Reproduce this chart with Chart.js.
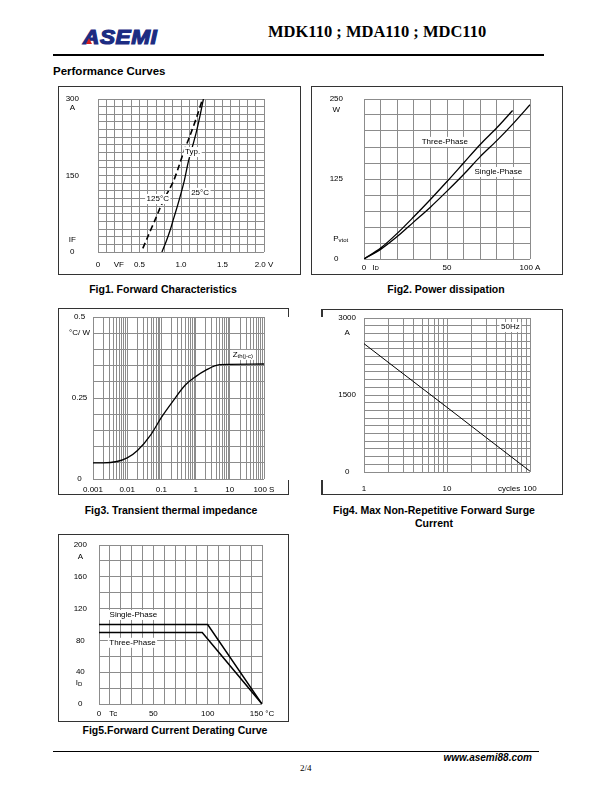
<!DOCTYPE html>
<html lang="en">
<head>
<meta charset="UTF-8" />
<title>MDK110 ; MDA110 ; MDC110 - Performance Curves</title>
<script src="https://cdn.jsdelivr.net/npm/chart.js@4/dist/chart.umd.min.js"></script>
<style>
  body { margin: 0; background: #fff; }
  #page { position: relative; width: 612px; height: 792px; overflow: hidden;
          font-family: "Liberation Sans", Arial, sans-serif; color: #000; }
  .abs { position: absolute; white-space: nowrap; }
  .frame { position: absolute; box-sizing: border-box; border: 1.5px solid #333; }
  .seg { position: absolute; background: #333; width: 1.5px; }
  canvas { position: absolute; }
  .cap { position: absolute; font-weight: bold; font-size: 10.5px; line-height: 13px;
         text-align: center; white-space: nowrap; }
</style>
</head>
<body>
<div id="page">
  <!-- header -->
  <div class="abs" style="left:83px;top:27px;font-size:20px;line-height:20px;font-weight:bold;font-style:italic;
       color:#1c2c82;-webkit-text-stroke:1.2px #1c2c82;letter-spacing:0.5px;transform:scaleX(1.13);transform-origin:left">ASEMI</div>
  <div class="abs" style="left:86px;top:38px;width:0;height:0;border-left:3px solid transparent;border-right:3px solid transparent;border-bottom:6px solid #d42020"></div>
  <div class="abs" style="left:268px;top:24px;font-family:'Liberation Serif',serif;font-weight:bold;font-size:16.5px;line-height:16.5px">MDK110 ; MDA110 ; MDC110</div>
  <div class="abs" style="left:53px;top:53.5px;width:491px;height:2.5px;background:#000"></div>
  <div class="abs" style="left:53px;top:66px;font-weight:bold;font-size:11.5px;line-height:11px">Performance Curves</div>

  <!-- frames -->
  <div class="frame" style="left:58px;top:86px;width:243px;height:189px"></div>
  <div class="frame" style="left:311px;top:86px;width:252px;height:189px"></div>
  <div class="frame" style="left:58px;top:308px;width:231px;height:187px;border-right:none"></div>
  <div class="seg" style="left:287.5px;top:308px;height:9px"></div>
  <div class="seg" style="left:287.5px;top:480px;height:15px"></div>
  <div class="frame" style="left:321px;top:309px;width:242px;height:186px;border-left:none"></div>
  <div class="seg" style="left:321px;top:309px;height:8px"></div>
  <div class="seg" style="left:321px;top:480px;height:15px"></div>
  <div class="frame" style="left:58px;top:534px;width:231px;height:188px"></div>

  <canvas id="fig1" width="241" height="188" style="left:59px;top:87px"></canvas>
  <canvas id="fig2" width="251" height="187" style="left:312px;top:87px"></canvas>
  <canvas id="fig3" width="229" height="185" style="left:59px;top:309px"></canvas>
  <canvas id="fig4" width="241" height="184" style="left:322px;top:310px"></canvas>
  <canvas id="fig5" width="229" height="187" style="left:59px;top:535px"></canvas>

  <!-- captions -->
  <div class="cap" style="left:63px;width:200px;top:283px">Fig1. Forward Characteristics</div>
  <div class="cap" style="left:346px;width:200px;top:283px">Fig2. Power dissipation</div>
  <div class="cap" style="left:61px;width:220px;top:504px">Fig3. Transient thermal impedance</div>
  <div class="cap" style="left:324px;width:220px;top:504px">Fig4. Max Non-Repetitive Forward Surge<br>Current</div>
  <div class="cap" style="left:65px;width:220px;top:724px">Fig5.Forward Current Derating Curve</div>

  <!-- footer -->
  <div class="abs" style="left:53px;top:751px;width:486px;height:1px;background:#000"></div>
  <div class="abs" style="right:80px;top:752px;font-weight:bold;font-style:italic;font-size:10px;line-height:12px">www.asemi88.com</div>
  <div class="abs" style="left:300px;top:763px;font-family:'Liberation Serif',serif;font-size:9px;line-height:10px">2/4</div>
</div>

<script>
  // ---- Fig1: forward characteristics ----
  const fig1V25 = [0.77, 0.82, 0.87, 0.91, 0.96, 1.0, 1.04, 1.09, 1.14, 1.18, 1.23, 1.27];
  const fig1I25 = [0, 20, 43, 65, 92, 115, 140, 178, 208, 232, 268, 300];
  const fig1V125 = [0.54, 0.6, 0.69, 0.75, 0.81, 0.86, 0.91, 0.97, 1.03, 1.11, 1.19, 1.26];
  const fig1I125 = [7, 30, 64, 87, 108, 123, 139, 166, 195, 229, 265, 300];
  const fig1XTicks = [0, 0.25, 0.5, 1.0, 1.5, 2.0];
  const fig1XLabels = ['0', 'VF', '0.5', '1.0', '1.5', '2.0 V'];
  const fig1YTicks = [0, 23, 150, 282, 300];
  const fig1YLabels = ['0', 'IF', '150', 'A', '300'];

  // ---- Fig2: power dissipation ----
  const fig2IThree = [0, 10, 20, 30, 40, 50, 60, 70, 80, 89.5];
  const fig2PThree = [0, 17, 40, 66, 93, 121, 150, 179, 205, 232];
  const fig2ISingle = [0, 10, 20, 30, 40, 50, 60, 70, 80, 90, 100];
  const fig2PSingle = [0, 15, 35, 58, 81, 106, 132, 160, 185, 212, 241];
  const fig2XTicks = [0, 50, 100];
  const fig2XLabels = ['0', '50', '100 A'];
  const fig2YTicks = [0, 125, 233, 250];
  const fig2YLabels = ['0', '125', 'W', '250'];

  // ---- Fig3: transient thermal impedance ----
  const fig3Time = [0.001, 0.002, 0.005, 0.01, 0.02, 0.05, 0.1, 0.2, 0.5, 1, 2, 5, 10, 100];
  const fig3Zth = [0.05, 0.05, 0.054, 0.065, 0.088, 0.138, 0.19, 0.235, 0.29, 0.316, 0.336, 0.353, 0.354, 0.355];
  const fig3XTicks = [0.001, 0.01, 0.1, 1, 10, 100];
  const fig3XLabels = ['0.001', '0.01', '0.1', '1', '10', '100 S'];
  const fig3YTicks = [0, 0.25, 0.45, 0.5];
  const fig3YLabels = ['0', '0.25', '°C/ W', '0.5'];

  // ---- Fig4: max non-repetitive surge current ----
  const fig4Cycles = [1, 2.5, 10, 30, 100];
  const fig4Surge = [2500, 2005, 1260, 665, 15];
  const fig4XTicks = [1, 10, 56, 100];
  const fig4XLabels = ['1', '10', 'cycles', '100'];
  const fig4YTicks = [0, 1500, 2710, 3000];
  const fig4YLabels = ['0', '1500', 'A', '3000'];

  // ---- Fig5: current derating ----
  const fig5TSingle = [0, 100, 150];
  const fig5ISingle = [100, 100, 0];
  const fig5TThree = [0, 95, 150];
  const fig5IThree = [90, 90, 0];
  const fig5XTicks = [0, 13, 50, 100, 150];
  const fig5XLabels = ['0', 'Tc', '50', '100', '150 °C'];
  const fig5YTicks = [0, 40, 80, 120, 160, 185, 200];
  const fig5YLabels = ['0', '40', '80', '120', '160', 'A', '200'];

  Chart.defaults.font.family = "'Liberation Sans', Arial, sans-serif";
  Chart.defaults.font.size = 8;
  Chart.defaults.color = '#000';
  Chart.defaults.animation = false;
  Chart.defaults.plugins.legend.display = false;
  Chart.defaults.plugins.tooltip.enabled = false;

  // text labels placed in data units, optional subscript and white box
  const notesPlugin = {
    id: 'notes',
    afterDatasetsDraw(chart, args, opts) {
      const ctx = chart.ctx;
      const xs = chart.scales.x, ys = chart.scales.y;
      (opts.items || []).forEach((n) => {
        const px = xs.getPixelForValue(n.x);
        const py = ys.getPixelForValue(n.y);
        ctx.save();
        ctx.font = "8px 'Liberation Sans', Arial, sans-serif";
        const w1 = ctx.measureText(n.text).width;
        ctx.font = "6px 'Liberation Sans', Arial, sans-serif";
        const w2 = n.sub ? ctx.measureText(n.sub).width : 0;
        const left = px - (w1 + w2) / 2;
        if (n.box) {
          ctx.fillStyle = '#fff';
          ctx.fillRect(left - 1.5, py - 5, w1 + w2 + 3, 10);
        }
        ctx.fillStyle = '#000';
        ctx.textBaseline = 'middle';
        ctx.textAlign = 'left';
        ctx.font = "8px 'Liberation Sans', Arial, sans-serif";
        ctx.fillText(n.text, left, py);
        if (n.sub) {
          ctx.font = "6px 'Liberation Sans', Arial, sans-serif";
          ctx.fillText(n.sub, left + w1, py + 1.5);
        }
        ctx.restore();
      });
    }
  };
  Chart.register(notesPlugin);

  function steps(min, max, step) {
    const out = [];
    for (let v = min; v <= max + step / 1000; v += step) out.push(+v.toFixed(6));
    return out;
  }
  function logSteps(min, max) {
    const out = [];
    for (let d = Math.round(Math.log10(min)); d < Math.round(Math.log10(max)); d++) {
      for (let k = 1; k < 10; k++) out.push(+(k * Math.pow(10, d)).toPrecision(6));
    }
    out.push(max);
    return out;
  }
  function pts(xs, ys) {
    return xs.map((x, i) => ({ x: x, y: ys[i] }));
  }

  // the label padding must not push the plot area inwards
  function noPad(s) {
    s.paddingTop = 0; s.paddingBottom = 0; s.paddingLeft = 0; s.paddingRight = 0;
  }

  function labelAxis(type, position, min, max, values, labels, pad, size) {
    return {
      type: type, position: position, min: min, max: max,
      grid: { display: false, drawTicks: false },
      border: { display: false },
      ticks: {
        autoSkip: false, maxRotation: 0, minRotation: 0, padding: pad,
        crossAlign: position === 'left' ? 'center' : 'near',
        callback: (v, i) => labels[i]
      },
      afterBuildTicks: (s) => { s.ticks = values.map((v) => ({ value: v })); },
      afterFit: (s) => {
        if (position === 'left') s.width = size; else s.height = size;
        noPad(s);
      }
    };
  }
  function gridAxis(type, position, min, max, values) {
    return {
      type: type, position: position, min: min, max: max,
      grid: { color: '#8c8c8c', lineWidth: 1, drawTicks: false },
      border: { display: false },
      ticks: { display: false },
      afterBuildTicks: (s) => { s.ticks = values.map((v) => ({ value: v })); },
      afterFit: (s) => {
        if (position === 'left') s.width = 0; else s.height = 0;
        noPad(s);
      }
    };
  }

  function makeChart(id, c) {
    return new Chart(document.getElementById(id), {
      type: 'line',
      data: { datasets: c.datasets },
      options: {
        responsive: false,
        layout: { padding: { top: c.padTop, right: c.padRight, left: 0, bottom: 0 } },
        elements: { point: { radius: 0 } },
        scales: {
          x: labelAxis(c.xType, 'bottom', c.xMin, c.xMax, c.xTicks, c.xLabels, c.xPad, c.xSize),
          xg: gridAxis(c.xType, 'bottom', c.xMin, c.xMax, c.xGrid),
          y: labelAxis('linear', 'left', c.yMin, c.yMax, c.yTicks, c.yLabels, c.yPad, c.ySize),
          yg: gridAxis('linear', 'left', c.yMin, c.yMax, c.yGrid)
        },
        plugins: { notes: { items: c.notes } }
      }
    });
  }

  function line(data, extra) {
    return Object.assign({
      data: data, xAxisID: 'x', yAxisID: 'y',
      borderColor: '#000', borderWidth: 1.3, fill: false, pointRadius: 0, tension: 0
    }, extra || {});
  }

  makeChart('fig1', {
    xType: 'linear', xMin: 0, xMax: 2, xGrid: steps(0, 2, 0.1),
    xTicks: fig1XTicks, xLabels: fig1XLabels, xPad: 8, xSize: 23,
    yMin: 0, yMax: 300, yGrid: steps(0, 300, 15),
    yTicks: fig1YTicks, yLabels: fig1YLabels, yPad: 19, ySize: 39,
    padTop: 12, padRight: 36,
    datasets: [
      line(pts(fig1V25, fig1I25), { tension: 0.3 }),
      line(pts(fig1V125, fig1I125), { tension: 0.3, borderDash: [6, 3.5], borderWidth: 1.6 })
    ],
    notes: [
      { text: 'Typ.', x: 1.14, y: 196, box: true },
      { text: '125°C', x: 0.72, y: 104, box: true },
      { text: '25°C', x: 1.23, y: 116, box: true }
    ]
  });

  makeChart('fig2', {
    xType: 'linear', xMin: 0, xMax: 100, xGrid: steps(0, 100, 10),
    xTicks: fig2XTicks, xLabels: fig2XLabels, xPad: 4, xSize: 15,
    yMin: 0, yMax: 250, yGrid: steps(0, 250, 25),
    yTicks: fig2YTicks, yLabels: fig2YLabels, yPad: 21, ySize: 52,
    padTop: 12, padRight: 33,
    datasets: [
      line(pts(fig2IThree, fig2PThree), { tension: 0.3 }),
      line(pts(fig2ISingle, fig2PSingle), { tension: 0.3 })
    ],
    notes: [
      { text: 'Three-Phase', x: 48.7, y: 183, box: true },
      { text: 'Single-Phase', x: 80.9, y: 136, box: true },
      { text: 'I', sub: 'D', x: 7, y: -13 },
      { text: 'P', sub: 'vtot', x: -14, y: 31 }
    ]
  });

  makeChart('fig3', {
    xType: 'logarithmic', xMin: 0.001, xMax: 100, xGrid: logSteps(0.001, 100),
    xTicks: fig3XTicks, xLabels: fig3XLabels, xPad: 6, xSize: 15,
    yMin: 0, yMax: 0.5, yGrid: steps(0, 0.5, 0.05),
    yTicks: fig3YTicks, yLabels: fig3YLabels, yPad: 3, ySize: 34,
    padTop: 8, padRight: 24,
    datasets: [
      line(pts(fig3Time, fig3Zth), { cubicInterpolationMode: 'monotone' })
    ],
    notes: [
      { text: 'Z', sub: 'th(j-c)', x: 24, y: 0.383, box: true }
    ]
  });

  makeChart('fig4', {
    xType: 'logarithmic', xMin: 1, xMax: 100, xGrid: logSteps(1, 100),
    xTicks: fig4XTicks, xLabels: fig4XLabels, xPad: 12, xSize: 22,
    yMin: 0, yMax: 3000, yGrid: steps(0, 3000, 150),
    yTicks: fig4YTicks, yLabels: fig4YLabels, yPad: 8, ySize: 42,
    padTop: 8, padRight: 33,
    datasets: [
      line(pts(fig4Cycles, fig4Surge), { borderWidth: 1 })
    ],
    notes: [
      { text: '50Hz', x: 58, y: 2825, box: true }
    ]
  });

  makeChart('fig5', {
    xType: 'linear', xMin: 0, xMax: 150, xGrid: steps(0, 150, 10),
    xTicks: fig5XTicks, xLabels: fig5XLabels, xPad: 4.5, xSize: 18,
    yMin: 0, yMax: 200, yGrid: steps(0, 200, 20),
    yTicks: fig5YTicks, yLabels: fig5YLabels, yPad: 12, ySize: 40,
    padTop: 10, padRight: 26,
    datasets: [
      line(pts(fig5TSingle, fig5ISingle), { borderWidth: 1.5 }),
      line(pts(fig5TThree, fig5IThree), { borderWidth: 1.5 })
    ],
    notes: [
      { text: 'Single-Phase', x: 31.6, y: 112, box: true },
      { text: 'Three-Phase', x: 30.8, y: 77, box: true },
      { text: 'I', sub: 'D', x: -18.4, y: 27 }
    ]
  });
</script>
</body>
</html>
